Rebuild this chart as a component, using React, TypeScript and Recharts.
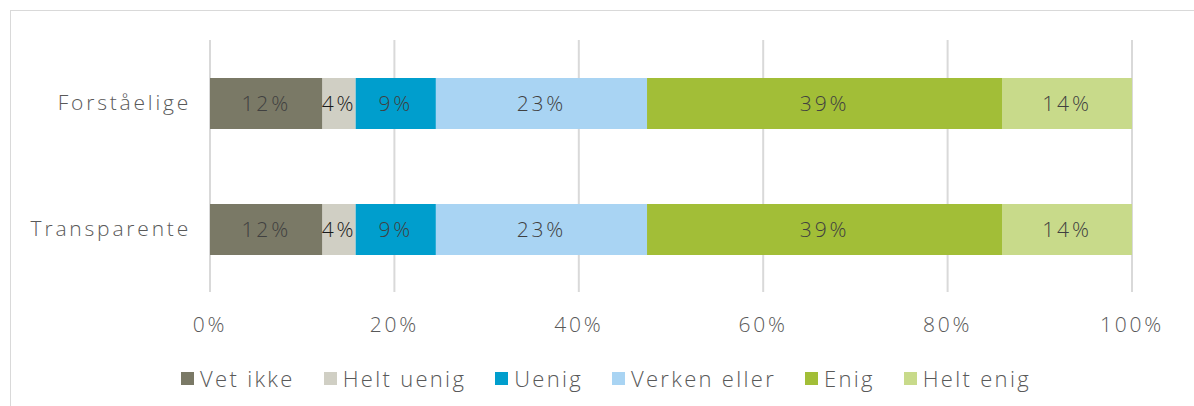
import { Bar, BarChart, CartesianGrid, LabelList, Legend, XAxis, YAxis } from "recharts"

const categories = ["Forståelige", "Transparente"]
const seriesNames = ["Vet ikke", "Helt uenig", "Uenig", "Verken eller", "Enig", "Helt enig"]
const vetIkke = [12.2, 12.2]
const heltUenig = [3.6, 3.6]
const uenig = [8.7, 8.7]
const verkenEller = [22.9, 22.9]
const enig = [38.5, 38.5]
const heltEnig = [14.1, 14.1]
const xTicks = [0, 20, 40, 60, 80, 100]

const seriesValues = [vetIkke, heltUenig, uenig, verkenEller, enig, heltEnig]
const colors = ["#7a7966", "#d0cfc4", "#009ecd", "#a9d4f3", "#a2be37", "#c8da8a"]
const labelColors = ["#404040", "#1a1a1a", "#404040", "#404040", "#404040", "#404040"]

const data = categories.map((name, i) => {
    const row: Record<string, string | number> = { name }
    seriesNames.forEach((s, j) => {
        row[s] = seriesValues[j][i]
    })
    return row
})

const FONT = "'Open Sans', 'Noto Sans', sans-serif"
const textStyle = { fontSize: 21, fontFamily: FONT, fontWeight: 300, letterSpacing: 2.8 }

function LegendContent() {
    return (
        <div style={{ display: "flex", justifyContent: "center", alignItems: "center", paddingTop: 11, paddingLeft: 80, fontFamily: FONT, fontWeight: 300, fontSize: 22, letterSpacing: 2.3, color: "#595959" }}>
            {seriesNames.map((s, i) => (
                <div key={s} style={{ display: "flex", alignItems: "center", marginRight: i < seriesNames.length - 1 ? 29 : 0 }}>
                    <span style={{ display: "inline-block", width: 13, height: 13, background: colors[i], marginRight: 6 }} />
                    <span>{s}</span>
                </div>
            ))}
        </div>
    )
}

export default function App() {
    return (
        <div style={{ position: "fixed", left: 0, top: 0, width: 1194, height: 406, background: "#fff", overflow: "hidden" }}>
            <div style={{ position: "absolute", left: 10, top: 10, width: 1200, height: 420, border: "1px solid #d9d9d9", boxSizing: "border-box" }} />
            <BarChart
                width={1194}
                height={406}
                data={data}
                layout="vertical"
                margin={{ top: 40, right: 62, left: 0, bottom: 10 }}
                barSize={51}
                style={{ position: "absolute", left: 0, top: 0 }}
            >
                <CartesianGrid horizontal={false} stroke="#d9d9d9" strokeWidth={2} />
                <XAxis
                    type="number"
                    domain={[0, 100]}
                    ticks={xTicks}
                    tickFormatter={(v) => `${v}%`}
                    axisLine={false}
                    tickLine={false}
                    tickMargin={19}
                    height={60}
                    tick={{ fill: "#595959", ...textStyle }}
                />
                <YAxis
                    type="category"
                    dataKey="name"
                    width={210}
                    axisLine={false}
                    tickLine={false}
                    tickMargin={13}
                    tick={{ fill: "#595959", ...textStyle }}
                />
                <Legend verticalAlign="bottom" height={44} content={<LegendContent />} />
                {seriesNames.map((s, i) => (
                    <Bar key={s} dataKey={s} stackId="a" fill={colors[i]} isAnimationActive={false}>
                        <LabelList
                            dataKey={s}
                            position="center"
                            formatter={(v: any) => `${Math.round(Number(v))}%`}
                            style={{ fill: labelColors[i], ...textStyle }}
                        />
                    </Bar>
                ))}
            </BarChart>
        </div>
    )
}
